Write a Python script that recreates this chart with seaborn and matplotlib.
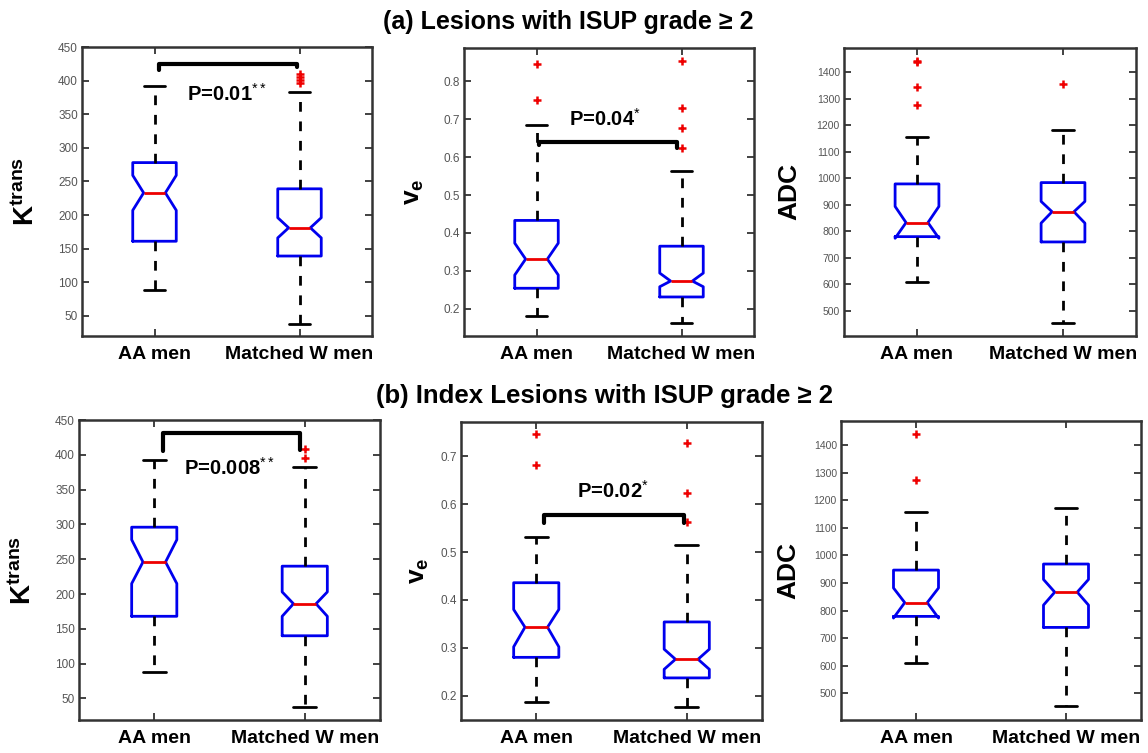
import numpy as np
import pandas as pd
import seaborn as sns
import matplotlib.pyplot as plt

# ---- data, order: [AA men, Matched W men] ----
groups = ["AA men", "Matched W men"]

ktrans_a = {
    "whislo": [88, 38], "q1": [161, 139], "med": [233, 181], "q3": [278, 239], "whishi": [392, 383],
    "cilo": [207, 166], "cihi": [259, 196], "fliers": [[], [397, 401, 405, 410]],
}
ve_a = {
    "whislo": [0.181, 0.161], "q1": [0.254, 0.231], "med": [0.331, 0.273], "q3": [0.433, 0.365],
    "whishi": [0.686, 0.564], "cilo": [0.289, 0.258], "cihi": [0.373, 0.294],
    "fliers": [[0.750, 0.846], [0.623, 0.678, 0.730, 0.855]],
}
adc_a = {
    "whislo": [608, 453], "q1": [780, 760], "med": [833, 874], "q3": [979, 984], "whishi": [1157, 1182],
    "cilo": [774, 831], "cihi": [894, 913], "fliers": [[1276, 1343, 1438, 1442], [1357]],
}
ktrans_b = {
    "whislo": [88, 38], "q1": [168, 140], "med": [246, 186], "q3": [296, 240], "whishi": [392, 383],
    "cilo": [215, 168], "cihi": [278, 203], "fliers": [[], [395, 408]],
}
ve_b = {
    "whislo": [0.186, 0.177], "q1": [0.280, 0.237], "med": [0.343, 0.276], "q3": [0.436, 0.354],
    "whishi": [0.532, 0.515], "cilo": [0.302, 0.255], "cihi": [0.380, 0.297],
    "fliers": [[0.682, 0.747], [0.562, 0.623, 0.728]],
}
adc_b = {
    "whislo": [609, 452], "q1": [779, 739], "med": [829, 867], "q3": [947, 969], "whishi": [1157, 1174],
    "cilo": [773, 820], "cihi": [882, 913], "fliers": [[1274, 1441], []],
}

# significance annotations: text, text pos, bracket x ends, bracket top, bracket end heights
sig_ktrans_a = {"text": "P=0.01$^{**}$", "xy": (1.50, 381), "x": [1.03, 1.98], "top": 425, "ends": [416, 420]}
sig_ve_a = {"text": "P=0.04$^{*}$", "xy": (1.47, 0.700), "x": [1.02, 1.97], "top": 0.640, "ends": [0.633, 0.624]}
sig_ktrans_b = {"text": "P=0.008$^{**}$", "xy": (1.50, 381), "x": [1.06, 1.97], "top": 431, "ends": [405, 407]}
sig_ve_b = {"text": "P=0.02$^{*}$", "xy": (1.51, 0.629), "x": [1.05, 1.98], "top": 0.577, "ends": [0.560, 0.561]}

titles = ["(a) Lesions with ISUP grade \u2265 2", "(b) Index Lesions with ISUP grade \u2265 2"]

# ---- style ----
sns.set_theme(style="ticks")
plt.rcParams["font.family"] = ["Liberation Sans", "DejaVu Sans"]
plt.rcParams["text.color"] = "black"
plt.rcParams["axes.labelcolor"] = "black"
plt.rcParams["mathtext.fontset"] = "custom"
plt.rcParams["mathtext.rm"] = "Liberation Sans"
plt.rcParams["mathtext.it"] = "Liberation Sans:italic"
plt.rcParams["mathtext.bf"] = "Liberation Sans:bold"

W, H = 1148, 753
fig = plt.figure(figsize=(W / 100, H / 100), dpi=100)


def make_ax(l, t, r, b):
    return fig.add_axes([l / W, 1 - b / H, (r - l) / W, (b - t) / H])


def draw_panel(ax, stats, ylim, yticks, ylabel, label_x, label_size, tick_size, sig=None):
    recs = []
    for i, g in enumerate(groups):
        recs.append({
            "label": g,
            "whislo": stats["whislo"][i], "q1": stats["q1"][i], "med": stats["med"][i],
            "q3": stats["q3"][i], "whishi": stats["whishi"][i],
            "cilo": stats["cilo"][i], "cihi": stats["cihi"][i],
            "fliers": np.array(stats["fliers"][i], dtype=float),
        })
    ax.bxp(recs, positions=[1, 2], widths=0.3, shownotches=True, showfliers=True,
           boxprops=dict(color="#0000ee", linewidth=2),
           medianprops=dict(color="#ee0000", linewidth=2),
           whiskerprops=dict(color="black", linewidth=2, linestyle=(0, (3.5, 3.5))),
           capprops=dict(color="black", linewidth=2),
           flierprops=dict(marker="+", markeredgecolor="#ee0000", markersize=6,
                           markeredgewidth=1.8, linestyle="none"))
    ax.set_xlim(0.5, 2.5)
    ax.set_ylim(*ylim)
    ax.set_yticks(yticks)
    ax.set_xticks([1, 2])
    ax.set_xticklabels(groups, fontsize=14, fontweight="bold", color="black")
    ax.tick_params(axis="both", direction="in", top=True, right=True, length=5, width=1.3,
                   color="#333333")
    ax.tick_params(axis="y", labelsize=tick_size, labelcolor="#555555", pad=3)
    ax.tick_params(axis="x", pad=7)
    for s in ax.spines.values():
        s.set_color("#333333")
        s.set_linewidth(1.8)
    ax.set_ylabel(ylabel, fontsize=label_size)
    ax.yaxis.set_label_coords(label_x, 0.5)
    if sig is not None:
        ax.plot([sig["x"][0], sig["x"][0], sig["x"][1], sig["x"][1]],
                [sig["ends"][0], sig["top"], sig["top"], sig["ends"][1]],
                color="black", lw=3, solid_joinstyle="round", solid_capstyle="round")
        ax.text(sig["xy"][0], sig["xy"][1], sig["text"], ha="center", va="center",
                fontsize=14.5, fontweight="bold")


ax1 = make_ax(82, 47, 372, 336)
ax2 = make_ax(464, 48, 754, 336)
ax3 = make_ax(844, 48, 1136, 336)
ax4 = make_ax(79, 420, 380, 720)
ax5 = make_ax(461, 422, 762, 720)
ax6 = make_ax(841, 421, 1141, 720)

k_label = r"$\mathbf{K^{trans}}$"
v_label = r"$\mathbf{v_e}$"

draw_panel(ax1, ktrans_a, (20, 450), np.arange(50, 451, 50), k_label, -0.145, 20, 8.5, sig_ktrans_a)
draw_panel(ax2, ve_a, (0.128, 0.888), np.arange(0.2, 0.81, 0.1), v_label, -0.13, 19, 8.5, sig_ve_a)
draw_panel(ax3, adc_a, (405, 1492), np.arange(500, 1401, 100), "ADC", -0.145, 19, 7.5)
draw_panel(ax4, ktrans_b, (19, 450), np.arange(50, 451, 50), k_label, -0.138, 20, 8.5, sig_ktrans_b)
draw_panel(ax5, ve_b, (0.149, 0.772), np.arange(0.2, 0.71, 0.1), v_label, -0.10, 19, 8.5, sig_ve_b)
draw_panel(ax6, adc_b, (403, 1488), np.arange(500, 1401, 100), "ADC", -0.135, 19, 7.5)

for a in (ax3, ax6):
    a.yaxis.label.set_fontweight("bold")

fig.text(568 / W, 1 - 22 / H, titles[0], ha="center", va="center", fontsize=18, fontweight="bold")
fig.text(604 / W, 1 - 396 / H, titles[1], ha="center", va="center", fontsize=18.5, fontweight="bold")

fig.savefig("out.png", dpi=100)
